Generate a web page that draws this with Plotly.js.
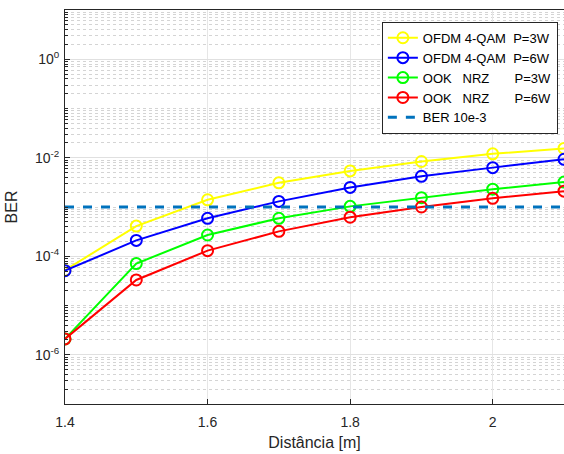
<!DOCTYPE html>
<html><head><meta charset="utf-8">
<script src="https://cdn.plot.ly/plotly-3.0.1.min.js"></script>
<style>html,body{margin:0;padding:0;background:#fff}#chart{width:564px;height:454px}</style>
</head><body><div id="chart"></div>
<script>
const distance = [1.4, 1.5, 1.6, 1.7, 1.8, 1.9, 2.0, 2.1];
const ofdm3W = [5.2e-5, 4.1e-4, 1.4e-3, 3.1e-3, 5.4e-3, 8.4e-3, 1.2e-2, 1.55e-2];
const ofdm6W = [5.1e-5, 2.1e-4, 5.9e-4, 1.3e-3, 2.5e-3, 4.2e-3, 6.3e-3, 9.3e-3];
const ook3W  = [2.1e-6, 7.1e-5, 2.7e-4, 5.9e-4, 1.03e-3, 1.55e-3, 2.3e-3, 3.2e-3];
const ook6W  = [2.1e-6, 3.3e-5, 1.3e-4, 3.2e-4, 6.2e-4, 1.0e-3, 1.5e-3, 2.1e-3];
const berLimit = 1e-3;
const seriesNames = ['OFDM 4-QAM\u00A0\u00A0P=3W', 'OFDM 4-QAM\u00A0\u00A0P=6W',
  'OOK\u00A0\u00A0\u00A0NRZ\u00A0\u00A0\u00A0\u00A0\u00A0\u00A0\u00A0P=3W', 'OOK\u00A0\u00A0\u00A0NRZ\u00A0\u00A0\u00A0\u00A0\u00A0\u00A0\u00A0P=6W', 'BER 10e-3'];
const yTickVals = [1e-6, 1e-4, 1e-2, 1];
const yTickText = ['10<sup>-6</sup>', '10<sup>-4</sup>', '10<sup>-2</sup>', '10<sup>0</sup>'];
const xTickVals = [1.4, 1.6, 1.8, 2];
const xTickText = ['1.4', '1.6', '1.8', '2'];

const colors = ['#FFFF00', '#0000FF', '#00FF00', '#FF0000'];
const ys = [ofdm3W, ofdm6W, ook3W, ook6W];
const traces = ys.map((y, i) => ({
  x: distance, y: y, type: 'scatter', mode: 'lines+markers', name: seriesNames[i],
  line: {color: colors[i], width: 2},
  marker: {symbol: 'circle-open', size: 11, color: colors[i], line: {width: 2, color: colors[i]}}
}));
traces.push({
  x: [distance[0], distance[distance.length - 1]], y: [berLimit, berLimit], type: 'scatter', mode: 'lines',
  name: seriesNames[4], line: {color: '#0072BD', width: 3, dash: 'dash'}
});

const layout = {
  width: 564, height: 454,
  margin: {l: 65, r: 0, t: 10, b: 50},
  paper_bgcolor: '#fff', plot_bgcolor: '#fff',
  font: {family: 'Liberation Sans, Arial, sans-serif', size: 14, color: '#262626'},
  showlegend: true,
  legend: {x: 0.635, y: 0.97, xanchor: 'left', yanchor: 'top', bgcolor: '#fff',
    bordercolor: '#262626', borderwidth: 1, font: {size: 13, color: '#000'}, tracegroupgap: 0},
  xaxis: {
    range: [1.4, 2.1], tickvals: xTickVals, ticktext: xTickText,
    showline: true, linecolor: '#262626', linewidth: 1, mirror: true,
    ticks: 'inside', ticklen: 5, tickcolor: '#262626', ticklabelstandoff: 5,
    showgrid: true, gridcolor: '#e6e6e6', gridwidth: 1, zeroline: false,
    title: {text: 'Distância [m]', font: {size: 16}, standoff: 8},
    tickfont: {size: 14}, automargin: false
  },
  yaxis: {
    type: 'log', range: [-7, 1], tickvals: yTickVals, ticktext: yTickText,
    showline: true, linecolor: '#262626', linewidth: 1, mirror: true,
    ticks: 'inside', ticklen: 5, tickcolor: '#262626', ticklabelstandoff: 2,
    showgrid: true, gridcolor: '#e0e0e0', gridwidth: 1, zeroline: false,
    minor: {dtick: 'D1', showgrid: true, gridcolor: '#d4d4d4', griddash: 'dot', ticks: 'inside', ticklen: 3, tickcolor: '#262626'},
    title: {text: 'BER', font: {size: 16}, standoff: 13},
    tickfont: {size: 14}, automargin: false
  }
};
Plotly.newPlot('chart', traces, layout, {displayModeBar: false, staticPlot: true});
</script></body></html>
